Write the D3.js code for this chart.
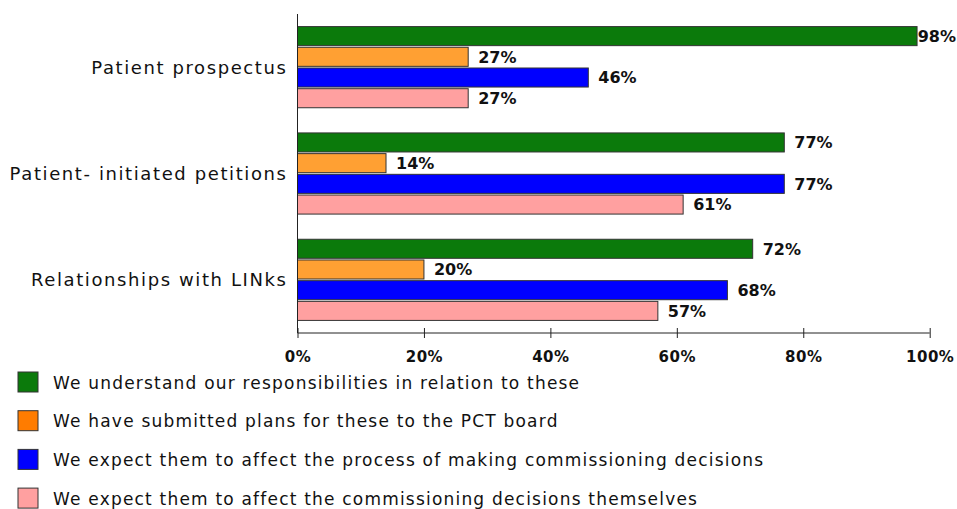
<!DOCTYPE html>
<html>
<head>
<meta charset="utf-8">
<script src="https://cdn.jsdelivr.net/npm/d3@7/dist/d3.min.js"></script>
<style>
  html, body { margin: 0; padding: 0; background: #fff; }
  svg { display: block; }
  text { font-family: "DejaVu Sans", Verdana, sans-serif; fill: #111; }
</style>
</head>
<body>
<svg id="chart" width="957" height="509"></svg>
<script>
// Survey topics (rows) and the four statements asked about each
const categories = ["Patient prospectus", "Patient- initiated petitions", "Relationships with LINks"];
const seriesNames = [
  "We understand our responsibilities in relation to these",
  "We have submitted plans for these to the PCT board",
  "We expect them to affect the process of making commissioning decisions",
  "We expect them to affect the commissioning decisions themselves"
];
// Percentage of respondents, one array per statement, in category order
const understand = [98, 77, 72];
const submitted  = [27, 14, 20];
const process    = [46, 77, 68];
const decisions  = [27, 61, 57];
const xTicks = [0, 20, 40, 60, 80, 100];

const barColors    = ["#0b7a0b", "#ffa033", "#0000ff", "#ffa0a0"];
const legendColors = ["#0b7a0b", "#ff7c00", "#0000ff", "#ffa0a0"];

const seriesValues = [understand, submitted, process, decisions];

const svg = d3.select("#chart");
const plot = { left: 297.5, right: 929.7, top: 14, bottom: 333 };

const x = d3.scaleLinear().domain([0, 100]).range([plot.left, plot.right]);
const y0 = d3.scaleBand().domain(categories).range([plot.top, plot.bottom])
  .paddingInner(0.229).paddingOuter(0.1145);
const y1 = d3.scaleBand().domain(d3.range(seriesNames.length)).range([0, y0.bandwidth()])
  .paddingInner(0.08).paddingOuter(0.02);

// Bars
const groups = svg.append("g").selectAll("g")
  .data(categories)
  .join("g")
  .attr("transform", c => `translate(0,${y0(c)})`);

groups.each(function(c, ci) {
  const g = d3.select(this);
  const rows = seriesValues.map((vals, si) => ({ si, v: vals[ci] }));
  g.selectAll("rect")
    .data(rows)
    .join("rect")
    .attr("x", x(0))
    .attr("y", d => y1(d.si))
    .attr("width", d => x(d.v) - x(0))
    .attr("height", y1.bandwidth())
    .attr("fill", d => barColors[d.si])
    .attr("stroke", "#333")
    .attr("stroke-width", 1);

  g.selectAll("text.val")
    .data(rows)
    .join("text")
    .attr("class", "val")
    .attr("y", d => y1(d.si) + y1.bandwidth() / 2)
    .attr("dy", "0.36em")
    .style("font-weight", "bold")
    .style("font-size", "16px")
    .text(d => d.v + "%")
    .attr("x", function(d) {
      const w = this.getComputedTextLength();
      return Math.min(x(d.v) + 10, 956 - w);
    });
});

// Category labels
svg.append("g").selectAll("text")
  .data(categories)
  .join("text")
  .attr("x", plot.left - 10)
  .attr("y", c => y0(c) + y0.bandwidth() / 2)
  .attr("dy", "0.36em")
  .attr("text-anchor", "end")
  .style("font-size", "18px")
  .style("letter-spacing", "1.6px")
  .text(c => c);

// Value axis with ticks crossing the baseline
const xAxis = svg.append("g")
  .attr("transform", `translate(0,${plot.bottom})`)
  .call(d3.axisBottom(x).tickValues(xTicks).tickFormat(d => d + "%").tickSize(5).tickPadding(13));
xAxis.select(".domain").attr("stroke", "#222").attr("d", `M${plot.left},0H${plot.right}`);
xAxis.selectAll(".tick line").attr("y1", -5).attr("stroke", "#222");
xAxis.selectAll(".tick text")
  .style("font-family", "'DejaVu Sans', Verdana, sans-serif")
  .style("font-size", "15px")
  .style("font-weight", "bold")
  .style("letter-spacing", "0.5px")
  .attr("fill", "#111");

// Category axis line
svg.append("line")
  .attr("x1", plot.left).attr("x2", plot.left)
  .attr("y1", plot.top).attr("y2", plot.bottom)
  .attr("stroke", "#222");

// Legend
const legend = svg.append("g").selectAll("g")
  .data(seriesNames)
  .join("g")
  .attr("transform", (d, i) => `translate(18,${372 + i * 38.7})`);
legend.append("rect")
  .attr("width", 20).attr("height", 20)
  .attr("fill", (d, i) => legendColors[i])
  .attr("stroke", "#333");
legend.append("text")
  .attr("x", 35)
  .attr("y", 10.5)
  .attr("dy", "0.36em")
  .style("font-size", "17px")
  .style("letter-spacing", "1.2px")
  .text(d => d);
</script>
</body>
</html>
